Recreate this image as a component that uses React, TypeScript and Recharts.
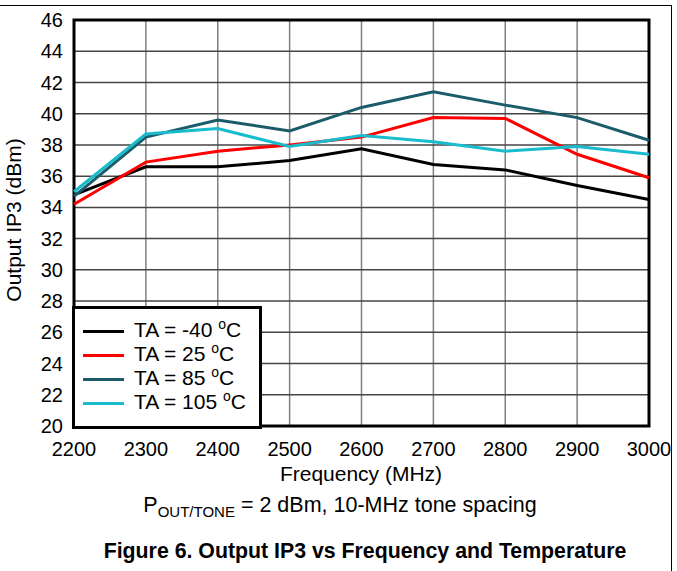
import { LineChart, Line, XAxis, YAxis, CartesianGrid, ReferenceArea, Legend } from 'recharts';

const freqs = [2200, 2300, 2400, 2500, 2600, 2700, 2800, 2900, 3000];
const tempM40 = [34.8, 36.6, 36.6, 37.0, 37.75, 36.75, 36.4, 35.4, 34.5];
const temp25 = [34.2, 36.9, 37.6, 38.0, 38.5, 39.75, 39.7, 37.4, 35.9];
const temp85 = [34.7, 38.5, 39.6, 38.9, 40.4, 41.4, 40.55, 39.75, 38.3];
const temp105 = [35.0, 38.7, 39.05, 37.9, 38.6, 38.2, 37.6, 37.9, 37.4];

const xTicks = [2200, 2300, 2400, 2500, 2600, 2700, 2800, 2900, 3000];
const yTicks = [20, 22, 24, 26, 28, 30, 32, 34, 36, 38, 40, 42, 44, 46];

const seriesKeys = ['m40', 't25', 't85', 't105'];
const seriesLabels = ['-40', '25', '85', '105'];

const data = freqs.map((f, i) => ({
  freq: f,
  m40: tempM40[i],
  t25: temp25[i],
  t85: temp85[i],
  t105: temp105[i],
}));

const font = '"Liberation Sans", Arial, sans-serif';

function LegendBox({ payload }: any) {
  const items = seriesKeys.map((k) => (payload || []).find((p: any) => p.dataKey === k)).filter(Boolean);
  return (
    <div
      style={{
        width: 190,
        height: 123,
        boxSizing: 'border-box',
        border: '3px solid #000',
        background: '#fff',
        paddingTop: 10,
        fontFamily: font,
        fontSize: 21,
        color: '#000',
      }}
    >
      {items.map((p: any) => (
        <div key={p.dataKey} style={{ display: 'flex', alignItems: 'center', height: 24, lineHeight: '24px' }}>
          <div style={{ width: 41, height: 3, background: p.color, marginLeft: 8, marginRight: 10 }} />
          <span style={{ whiteSpace: 'nowrap' }}>
            TA = {seriesLabels[seriesKeys.indexOf(p.dataKey)]}{' '}
            <span style={{ fontSize: 14, position: 'relative', top: -8 }}>o</span>C
          </span>
        </div>
      ))}
    </div>
  );
}

export default function App() {
  return (
    <div style={{ position: 'absolute', left: 0, top: 0, width: 677, height: 571, background: '#fff', fontFamily: font }}>
      <LineChart width={677} height={571} data={data} margin={{ top: 20, right: 28, left: 0, bottom: 85 }}>
        <CartesianGrid horizontal={false} stroke="#808080" strokeWidth={1.5} />
        <CartesianGrid vertical={false} stroke="#444" strokeWidth={1.5} />
        <XAxis
          dataKey="freq"
          type="number"
          domain={[2200, 3000]}
          ticks={xTicks}
          interval={0}
          height={60}
          axisLine={false}
          tickLine={false}
          tickSize={0}
          tickMargin={16}
          tick={{ fill: '#000', fontSize: 20, fontFamily: font }}
        />
        <YAxis
          type="number"
          domain={[20, 46]}
          ticks={yTicks}
          interval={0}
          width={74}
          axisLine={false}
          tickLine={false}
          tickSize={0}
          tickMargin={11}
          tick={{ fill: '#000', fontSize: 20, fontFamily: font }}
        />
        <Line dataKey="m40" stroke="#000000" strokeWidth={3} dot={false} isAnimationActive={false} />
        <Line dataKey="t25" stroke="#ff0000" strokeWidth={3} dot={false} isAnimationActive={false} />
        <Line dataKey="t85" stroke="#1b5c6b" strokeWidth={3} dot={false} isAnimationActive={false} />
        <Line dataKey="t105" stroke="#18bccc" strokeWidth={3} dot={false} isAnimationActive={false} />
        <ReferenceArea x1={2200} x2={3000} y1={20} y2={46} fill="none" stroke="#000" strokeWidth={3} ifOverflow="visible" />
        <Legend
          layout="horizontal"
          verticalAlign="middle"
          align="center"
          content={<LegendBox />}
          wrapperStyle={{ position: 'absolute', left: 72, top: 306, width: 190, height: 123 }}
        />
      </LineChart>

      <div
        style={{
          position: 'absolute',
          left: 14,
          top: 220,
          transform: 'translate(-50%, -50%) rotate(-90deg)',
          whiteSpace: 'nowrap',
          fontSize: 21,
        }}
      >
        Output IP3 (dBm)
      </div>
      <div style={{ position: 'absolute', left: 361, top: 474, transform: 'translate(-50%, -50%)', whiteSpace: 'nowrap', fontSize: 21 }}>
        Frequency (MHz)
      </div>
      <div style={{ position: 'absolute', left: 340, top: 505, transform: 'translate(-50%, -50%)', whiteSpace: 'nowrap', fontSize: 21.5 }}>
        P<span style={{ fontSize: 15, position: 'relative', top: 5 }}>OUT/TONE</span> = 2 dBm, 10-MHz tone spacing
      </div>
      <div
        style={{
          position: 'absolute',
          left: 365,
          top: 551,
          transform: 'translate(-50%, -50%)',
          whiteSpace: 'nowrap',
          fontSize: 21.3,
          fontWeight: 'bold',
        }}
      >
        Figure 6. Output IP3 vs Frequency and Temperature
      </div>

      <div style={{ position: 'absolute', left: 0, top: 5, width: 672, height: 0, borderTop: '1.5px solid #000' }} />
      <div style={{ position: 'absolute', left: 671, top: 5, width: 0, height: 566, borderLeft: '1.5px solid #000' }} />
    </div>
  );
}
